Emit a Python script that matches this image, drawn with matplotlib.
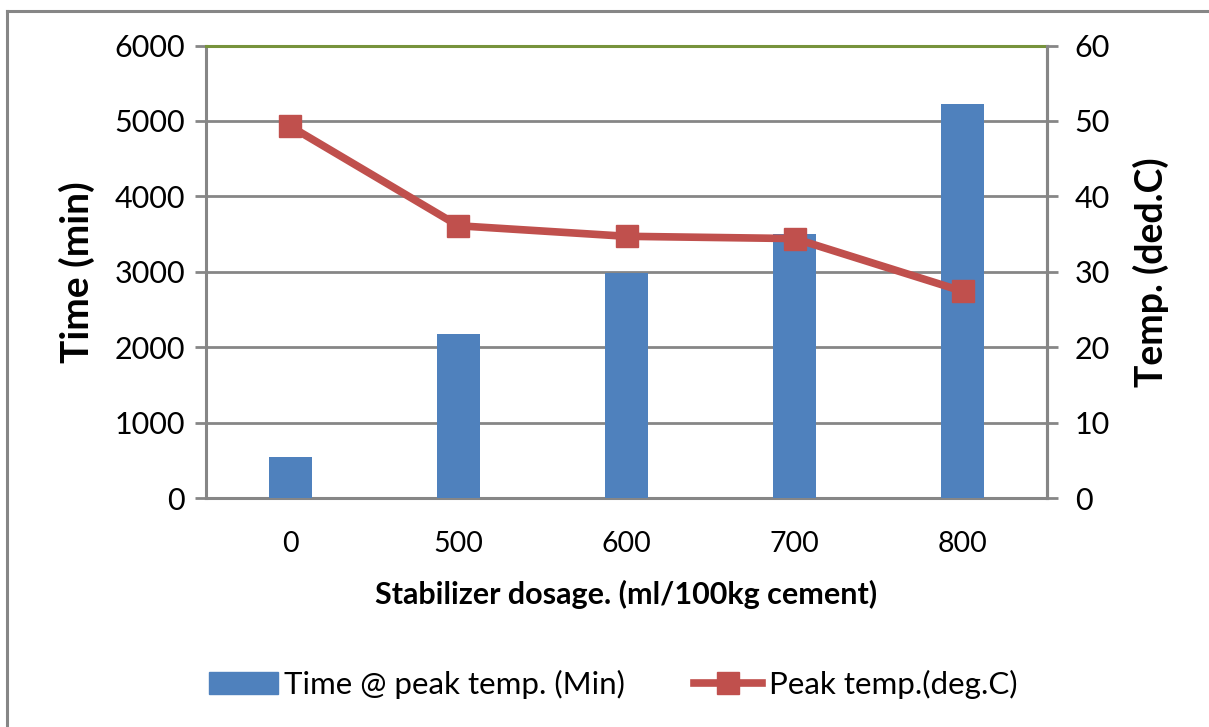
import matplotlib
matplotlib.use("Agg")
import matplotlib.pyplot as plt
from matplotlib.lines import Line2D
from matplotlib.patches import Patch

categories = ["0", "500", "600", "700", "800"]
time_min = [540, 2180, 2990, 3500, 5220]
peak_temp = [49.3, 36.1, 34.7, 34.4, 27.4]
left_ticks = [0, 1000, 2000, 3000, 4000, 5000, 6000]
right_ticks = [0, 10, 20, 30, 40, 50, 60]

plt.rcParams['font.family'] = ['Lato', 'DejaVu Sans']

W, H = 1209, 727
fig = plt.figure(figsize=(W / 100, H / 100), dpi=100)
L, R, T, B = 206, 1047, 45.5, 498
ax = fig.add_axes([L / W, (H - B) / H, (R - L) / W, (B - T) / H])

bar_c = "#4F81BD"
line_c = "#C0504D"
grid_c = "#868686"

x = list(range(len(categories)))
ax.bar(x, time_min, width=0.255, color=bar_c, zorder=3)
ax.set_xlim(-0.5, len(categories) - 0.5)
ax.set_ylim(0, 6000)
ax.set_yticks(left_ticks)
ax.set_xticks(x)
ax.set_xticklabels(categories)
ax.yaxis.grid(True, color=grid_c, linewidth=2, zorder=0)
ax.set_axisbelow(True)
ax.tick_params(axis='y', length=8, width=2, color=grid_c, labelsize=22, pad=7)
ax.tick_params(axis='x', length=0, labelsize=20.5, pad=24)
for s in ['left', 'bottom', 'right']:
    ax.spines[s].set_color(grid_c)
    ax.spines[s].set_linewidth(2.2)
ax.spines['top'].set_color("#77933C")
ax.spines['top'].set_linewidth(2.2)
ax.set_ylabel("Time (min)", fontsize=28, fontweight='bold', labelpad=14)
ax.set_xlabel("Stabilizer dosage. (ml/100kg cement)", fontsize=22, fontweight='bold', labelpad=16)

ax2 = ax.twinx()
ax2.plot(x, peak_temp, color=line_c, linewidth=5.5, marker='s', markersize=16,
         markerfacecolor=line_c, markeredgecolor=line_c, zorder=5)
ax2.set_ylim(0, 60)
ax2.set_yticks(right_ticks)
ax2.tick_params(axis='y', length=8, width=2, color=grid_c, labelsize=22, pad=12)
for s in ['left', 'bottom', 'top']:
    ax2.spines[s].set_visible(False)
ax2.spines['right'].set_color(grid_c)
ax2.spines['right'].set_linewidth(2.2)
ax2.set_ylabel("Temp. (ded.C)", fontsize=27, fontweight='bold', labelpad=16)

handles = [Patch(facecolor=bar_c, edgecolor=bar_c),
           Line2D([], [], color=line_c, linewidth=5.5, marker='s', markersize=16)]
fig.legend(handles, ["Time @ peak temp. (Min)", "Peak temp.(deg.C)"],
           loc='center', bbox_to_anchor=(613 / W, 1 - 684 / H), ncol=2,
           frameon=False, fontsize=22.5, handlelength=2.2, handletextpad=0.2,
           columnspacing=2.2)

# outer chart border
fig.add_artist(Line2D([7 / W, 1.0], [1 - 11 / H, 1 - 11 / H], color=grid_c, linewidth=2.2,
                      transform=fig.transFigure))
fig.add_artist(Line2D([7 / W, 7 / W], [1 - 11 / H, 0], color=grid_c, linewidth=2.2,
                      transform=fig.transFigure))

fig.savefig("out.png", dpi=100)
